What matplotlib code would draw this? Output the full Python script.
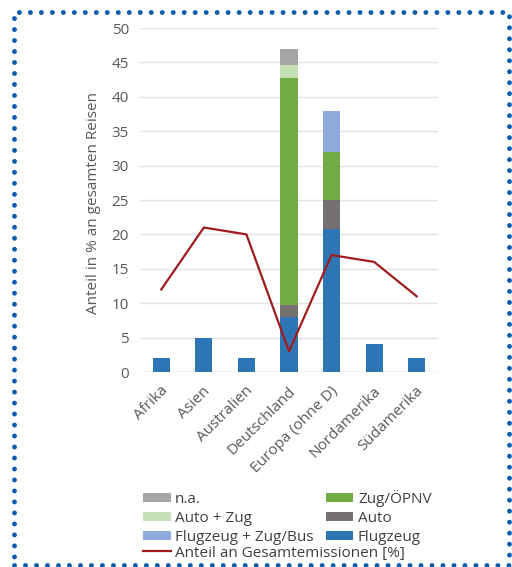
import numpy as np
import matplotlib.pyplot as plt
from matplotlib.patches import Rectangle
from matplotlib.transforms import ScaledTranslation

plt.rcParams['font.family'] = ['Open Sans', 'DejaVu Sans']

# Daten
laender = ['Afrika', 'Asien', 'Australien', 'Deutschland', 'Europa (ohne D)', 'Nordamerika', 'Südamerika']
flugzeug = [2, 5, 2, 8, 20.8, 4, 2]
auto = [0, 0, 0, 1.8, 4.2, 0, 0]
zug_oepnv = [0, 0, 0, 32.9, 7.0, 0, 0]
flug_zug_bus = [0, 0, 0, 0, 6.0, 0, 0]
auto_zug = [0, 0, 0, 1.9, 0, 0, 0]
na = [0, 0, 0, 2.4, 0, 0, 0]
emissionen = [12, 21, 20, 3, 17, 16, 11]

fig = plt.figure(figsize=(5.12, 5.67), dpi=100)
ax = fig.add_axes([140 / 512, 1 - 372 / 567, 298 / 512, 344 / 567])

x = np.arange(len(laender))
w = 0.4
serien = [
    (flugzeug, 'Flugzeug', '#2e75b6'),
    (auto, 'Auto', '#767171'),
    (zug_oepnv, 'Zug/ÖPNV', '#70ad47'),
    (flug_zug_bus, 'Flugzeug + Zug/Bus', '#8faadc'),
    (auto_zug, 'Auto + Zug', '#c5e0b4'),
    (na, 'n.a.', '#a5a5a5'),
]
bottom = np.zeros(len(laender))
handles = {}
for werte, name, farbe in serien:
    b = ax.bar(x, werte, w, bottom=bottom, color=farbe, label=name, zorder=2)
    handles[name] = b
    bottom += np.array(werte)

linie, = ax.plot(x, emissionen, color='#a01c1c', lw=1.6, zorder=3,
                 label='Anteil an Gesamtemissionen [%]')

ax.set_ylim(0, 50)
ax.set_xlim(-0.5, len(laender) - 0.5)
ax.set_yticks(range(0, 51, 5))
ax.yaxis.grid(True, color='#e3e3e3', lw=1, zorder=0)
ax.set_axisbelow(True)
for s in ax.spines.values():
    s.set_visible(False)
ax.axhline(0, color='#d9d9d9', lw=1, zorder=1)
ax.tick_params(length=0, colors='#595959', labelsize=11)
ax.tick_params(axis='y', pad=8)
ax.tick_params(axis='x', pad=12)
ax.set_xticks(x)
ax.set_xticklabels(laender, rotation=45, ha='right', va='center', rotation_mode='anchor')
for lbl in ax.get_xticklabels():
    lbl.set_transform(lbl.get_transform() + ScaledTranslation(4 / 100, 0, fig.dpi_scale_trans))
ax.set_ylabel('Anteil in % an gesamten Reisen', color='#595959', fontsize=11)
ax.yaxis.set_label_coords(-0.13, 0.49)

# Legende (Balken in zwei Spalten, Linie darunter)
reihenfolge = [handles['n.a.'], handles['Auto + Zug'], handles['Flugzeug + Zug/Bus'],
               handles['Zug/ÖPNV'], handles['Auto'], handles['Flugzeug']]
leg1 = fig.legend(handles=reihenfolge, labels=[h.get_label() for h in reihenfolge],
                  ncol=2, frameon=False, loc='upper left',
                  bbox_to_anchor=(143 / 512, 1 - 490 / 567),
                  fontsize=11, labelcolor='#404040',
                  handlelength=1.8, handleheight=0.5, handletextpad=0.3,
                  columnspacing=0.8, labelspacing=0.27, borderpad=0, borderaxespad=0)
leg2 = fig.legend(handles=[linie], labels=[linie.get_label()], frameon=False,
                  loc='center left', bbox_to_anchor=(143 / 512, 1 - 553 / 567),
                  fontsize=11, labelcolor='#404040', handlelength=1.8,
                  handletextpad=0.3, borderpad=0, borderaxespad=0)

# gepunkteter Rahmen
rahmen = Rectangle((14 / 512, 2 / 567), 495 / 512, 553 / 567, transform=fig.transFigure,
                   fill=False, edgecolor='#0b5cad', lw=3.5, linestyle=(0, (0.01, 2.25)),
                   capstyle='round')
fig.patches.append(rahmen)

fig.savefig('out.png', dpi=100)
